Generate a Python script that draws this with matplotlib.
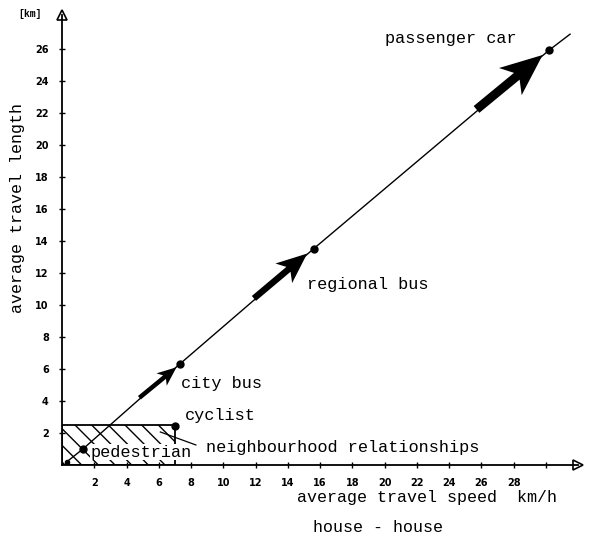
import matplotlib
matplotlib.use("Agg")
import matplotlib.pyplot as plt
from matplotlib.patches import Rectangle

# ── Data ────────────────────────────────────────────────────────────────────
modes      = ["pedestrian", "cyclist", "city bus", "regional bus", "passenger car"]
speed      = [1.3, 7.0, 7.3, 15.6, 30.2]      # km/h
length     = [1.0, 2.45, 6.3, 13.5, 25.9]     # km

# the trend line the motorised modes sit on
line_x     = [0.3, 1.3, 4.9, 7.3, 15.6, 30.2, 31.5]
line_y     = [0.2, 1.0, 4.2, 6.3, 13.5, 25.9, 26.9]

# growth arrows (tail -> head)
arrow_x0   = [4.8, 11.9, 25.7]
arrow_y0   = [4.2, 10.4, 22.2]
arrow_x1   = [7.1, 15.2, 29.8]
arrow_y1   = [6.1, 13.2, 25.6]

# neighbourhood zone
zone_speed  = 7.0
zone_length = 2.5

x_ticks    = list(range(2, 31, 2))
x_labels   = [str(t) if t <= 28 else "" for t in x_ticks]
y_ticks    = list(range(2, 27, 2))

MONO = ["Liberation Mono", "DejaVu Sans Mono"]

# arrow sizes, growing with the mode (data units)
shaft_w = [0.28, 0.4, 0.55]
head_w  = [1.0, 1.6, 2.2]
head_l  = [1.2, 1.9, 2.6]

# ── Figure ──────────────────────────────────────────────────────────────────
fig = plt.figure(figsize=(5.96, 5.36), dpi=100)
ax = fig.add_axes([0.104, 0.1325, 0.866, 0.8396])
ax.set_xlim(0, 32)
ax.set_ylim(0, 28.1)

for s in ["top", "right"]:
    ax.spines[s].set_visible(False)
for s in ["left", "bottom"]:
    ax.spines[s].set_linewidth(1.3)

# open arrow heads at axis ends
ax.plot(1, 0, ">", transform=ax.transAxes, clip_on=False,
        mfc="white", mec="black", ms=7, mew=1.2)
ax.plot(0, 1, "^", transform=ax.transAxes, clip_on=False,
        mfc="white", mec="black", ms=7, mew=1.2)

ax.set_xticks(x_ticks)
ax.set_xticklabels(x_labels, fontsize=7, fontweight="bold")
ax.set_yticks(y_ticks)
ax.set_yticklabels([str(t) for t in y_ticks], fontsize=7, fontweight="bold")
ax.tick_params(direction="inout", length=5, width=1.0, pad=7)

# hatched neighbourhood zone
ax.add_patch(Rectangle((0, 0), zone_speed, zone_length, fill=False,
                       hatch="\\\\", edgecolor="black", linewidth=1.3))

# trend line
ax.plot(line_x, line_y, color="black", lw=1.0)
ax.plot(speed, length, "o", color="black", ms=5)
ax.plot(line_x[0], line_y[0], "o", color="black", ms=3)

# growth arrows, getting bigger along the line
for i in range(len(arrow_x0)):
    ax.arrow(arrow_x0[i], arrow_y0[i],
             arrow_x1[i] - arrow_x0[i], arrow_y1[i] - arrow_y0[i],
             width=shaft_w[i], head_width=head_w[i],
             head_length=head_l[i], overhang=0.2,
             length_includes_head=True, color="black", lw=0)

# leader line for the zone label
ax.plot([6.1, 8.3], [2.06, 1.25], color="black", lw=0.9)

# labels
ax.text(20.0, 26.6, "passenger car", family=MONO, fontsize=12.2, va="center")
ax.text(15.2, 11.3, "regional bus", family=MONO, fontsize=12.2, va="center")
ax.text(7.4, 5.1, "city bus", family=MONO, fontsize=12.2, va="center")
ax.text(7.6, 3.1, "cyclist", family=MONO, fontsize=12.2, va="center")
ax.text(1.75, 0.8, "pedestrian", family=MONO, fontsize=12.2, va="center",
        bbox=dict(facecolor="white", edgecolor="none", pad=0.5))
ax.text(8.9, 1.1, "neighbourhood relationships", family=MONO, fontsize=12.2,
        va="center")

ax.text(-0.085, 1.003, "[km]", transform=ax.transAxes, family=MONO,
        fontsize=7, fontweight="bold", va="center")
fig.text(0.03, 0.612, "average travel length", family=MONO, fontsize=12,
         rotation=90, ha="center", va="center")
fig.text(0.498, 0.071, "average travel speed  km/h", family=MONO,
         fontsize=12, ha="left", va="center")
fig.text(0.525, 0.015, "house - house", family=MONO, fontsize=12,
         ha="left", va="center")

fig.savefig("out.png", dpi=100)
